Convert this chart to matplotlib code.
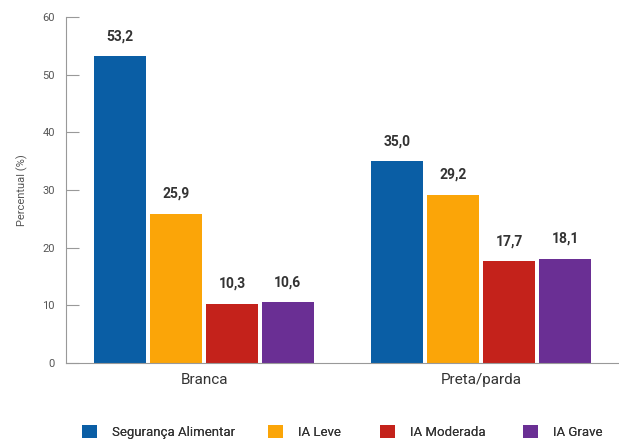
import numpy as np
import matplotlib
matplotlib.use('Agg')
import matplotlib.pyplot as plt

plt.rcParams['font.family'] = ['Roboto', 'DejaVu Sans']

groups = ['Branca', 'Preta/parda']
series = ['Segurança Alimentar', 'IA Leve', 'IA Moderada', 'IA Grave']
values = {
    'Segurança Alimentar': [53.2, 35.0],
    'IA Leve': [25.9, 29.2],
    'IA Moderada': [10.3, 17.7],
    'IA Grave': [10.6, 18.1],
}
colors = ['#0a5ea5', '#fba508', '#c4221b', '#6a2f94']

fig = plt.figure(figsize=(6.19, 4.41), dpi=100)
ax = fig.add_axes([66/619, 1-363/441, (619-66)/619, (363-17)/441])

group_x = np.array([0, 4.96])
offsets = [-1.5, -0.5, 0.5, 1.5]
width = 0.93

handles = []
for s, off, c in zip(series, offsets, colors):
    xs = group_x + off
    b = ax.bar(xs, values[s], width=width, color=c, label=s)
    handles.append(b)
    for x, v in zip(xs, values[s]):
        ax.text(x, v + 2.2, f'{v:.1f}'.replace('.', ','), ha='center', va='bottom',
                fontsize=10, fontweight='bold', color='#333333')

ax.set_xlim((66-204)/55.9, (619-204)/55.9)
ax.set_ylim(0, 60)
ax.set_yticks(range(0, 61, 10))
ax.set_xticks(group_x)
ax.set_xticklabels(groups, fontsize=11, color='#333333')
ax.tick_params(axis='x', length=0, pad=7)
ax.tick_params(axis='y', direction='in', length=9, width=0.8, color='#999999',
               labelsize=8, labelcolor='#555555', pad=8)
for sp in ['top', 'right']:
    ax.spines[sp].set_visible(False)
for sp in ['left', 'bottom']:
    ax.spines[sp].set_color('#999999')
    ax.spines[sp].set_linewidth(0.8)
ax.set_ylabel('Percentual (%)', fontsize=8, color='#555555', labelpad=10)

# legend entries placed one by one (uneven spacing in the original)
leg_x = [82, 268, 380, 523]
for h, s, lx in zip(handles, series, leg_x):
    leg = fig.legend(handles=[h], labels=[s], loc='center left',
                     bbox_to_anchor=(lx/619, 1-432/441), frameon=False,
                     fontsize=9.5, handlelength=1.1, handleheight=1.1,
                     handletextpad=1.2, borderpad=0, borderaxespad=0)
    leg.get_texts()[0].set_color('#333333')
    fig.add_artist(leg)

fig.savefig('out.png', dpi=100)
